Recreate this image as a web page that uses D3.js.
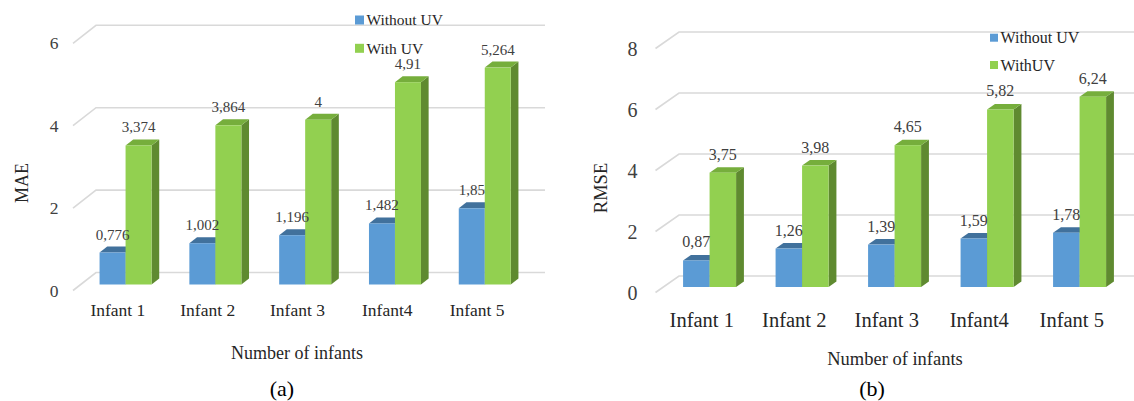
<!DOCTYPE html>
<html>
<head>
<meta charset="utf-8">
<script src="https://cdn.jsdelivr.net/npm/d3@7"></script>
<style>
  html, body { margin: 0; padding: 0; background: #fff; }
  svg text { font-family: "Liberation Serif", "Times New Roman", "DejaVu Serif", serif; }
</style>
</head>
<body>
<svg id="chart" width="1134" height="401"></svg>
<script>
// Categories and series values
const infants = ["Infant 1", "Infant 2", "Infant 3", "Infant4", "Infant 5"];
const maeWithoutUV = [0.776, 1.002, 1.196, 1.482, 1.85];
const maeWithUV = [3.374, 3.864, 4, 4.91, 5.264];
const rmseWithoutUV = [0.87, 1.26, 1.39, 1.59, 1.78];
const rmseWithUV = [3.75, 3.98, 4.65, 5.82, 6.24];
const maeTicks = [0, 2, 4, 6];
const rmseTicks = [0, 2, 4, 6, 8];
const maeLegend = ["Without UV", "With UV"];
const rmseLegend = ["Without UV", "WithUV"];

const FONT = "'Liberation Serif', 'Times New Roman', 'DejaVu Serif', serif";
const svg = d3.select("#chart").attr("font-family", FONT);

const colors = {
  blue:  { front: "#5b9bd5", top: "#41719c", side: "#3f6f9e" },
  green: { front: "#92d050", top: "#76ae3c", side: "#5f8a30" }
};

const fmt = v => String(v).replace(".", ",");

function drawPanel(p) {
  const g = svg.append("g").attr("font-family", FONT);

  // floor-front scales
  const x = d3.scaleBand().domain(infants).range([p.x0, p.x1]).paddingInner(0).paddingOuter(0);
  const y = d3.scaleLinear().domain([0, p.max]).range([p.y0, p.yTop]);

  // gridlines: short diagonal on the side wall, then along the back wall
  const grid = g.append("g").attr("fill", "none").attr("stroke", "#d9d9d9").attr("stroke-width", 1.6);
  p.ticks.forEach(t => {
    const yf = y(t);
    grid.append("path")
      .attr("d", `M${p.x0},${yf} L${p.x0 + p.dx},${yf + p.dy} L${p.x1 + p.dx},${yf + p.dy}`);
  });

  // tick labels
  g.append("g").selectAll("text").data(p.ticks).join("text")
    .attr("x", p.tickX)
    .attr("y", d => y(d))
    .attr("dy", "0.35em")
    .attr("text-anchor", "end")
    .attr("font-size", p.tickSize)
    .attr("fill", "#404040")
    .text(d => d);

  // bars sit in the middle third of the floor depth
  const ox = p.dx / 3, oy = p.dy / 3;
  const yb = v => y(v) + oy;          // bar front plane
  const series = [
    { vals: p.a, c: colors.blue, off: -p.barW },
    { vals: p.b, c: colors.green, off: 0 }
  ];
  const bars = g.append("g");
  infants.forEach((cat, i) => {
    const cx = x(cat) + x.bandwidth() / 2 + ox;
    series.forEach(s => {
      const v = s.vals[i];
      const xl = cx + s.off, xr = xl + p.barW;
      const yt = yb(v), ybase = yb(0);
      // side face
      bars.append("path")
        .attr("d", `M${xr},${yt} L${xr + ox},${yt + oy} L${xr + ox},${ybase + oy} L${xr},${ybase} Z`)
        .attr("fill", s.c.side);
      // top face
      bars.append("path")
        .attr("d", `M${xl},${yt} L${xl + ox},${yt + oy} L${xr + ox},${yt + oy} L${xr},${yt} Z`)
        .attr("fill", s.c.top);
      // front face
      bars.append("rect")
        .attr("x", xl).attr("y", yt)
        .attr("width", p.barW).attr("height", ybase - yt)
        .attr("fill", s.c.front);
    });
  });

  // value labels
  const labels = g.append("g")
    .attr("font-size", p.valSize)
    .attr("fill", "#404040")
    .attr("text-anchor", "middle");
  infants.forEach((cat, i) => {
    const cx = x(cat) + x.bandwidth() / 2 + ox;
    series.forEach(s => {
      const v = s.vals[i];
      labels.append("text")
        .attr("x", cx + s.off + p.barW / 2)
        .attr("y", yb(v) - p.valGap)
        .text(fmt(v));
    });
  });

  // category labels
  g.append("g").selectAll("text").data(infants).join("text")
    .attr("x", d => x(d) + x.bandwidth() / 2)
    .attr("y", p.catY)
    .attr("dy", "0.35em")
    .attr("text-anchor", "middle")
    .attr("font-size", p.catSize)
    .attr("fill", "#262626")
    .text(d => d);

  // axis titles
  g.append("text")
    .attr("x", p.xTitle[0]).attr("y", p.xTitle[1])
    .attr("dy", "0.35em")
    .attr("text-anchor", "middle")
    .attr("font-size", p.titleSize)
    .attr("fill", "#262626")
    .text("Number of infants");

  g.append("text")
    .attr("transform", `translate(${p.yTitle[0]},${p.yTitle[1]}) rotate(-90)`)
    .attr("dy", "0.35em")
    .attr("text-anchor", "middle")
    .attr("font-size", p.titleSize)
    .attr("fill", "#262626")
    .text(p.yName);

  // panel letter
  g.append("text")
    .attr("x", p.panel[0]).attr("y", p.panel[1])
    .attr("dy", "0.35em")
    .attr("text-anchor", "middle")
    .attr("font-size", 22)
    .attr("fill", "#000")
    .text(p.panelName);

  // legend
  const lg = g.append("g").attr("font-size", p.legSize).attr("fill", "#262626");
  [colors.blue.front, colors.green.front].forEach((c, i) => {
    const ly = p.legend[1] + i * p.legStep;
    lg.append("rect")
      .attr("x", p.legend[0]).attr("y", ly - p.legSq / 2)
      .attr("width", p.legSq).attr("height", p.legSq)
      .attr("fill", c);
    lg.append("text")
      .attr("x", p.legend[0] + p.legSq + 2.5).attr("y", ly)
      .attr("dy", "0.35em")
      .text(p.legNames[i]);
  });
}

drawPanel({
  a: maeWithoutUV, b: maeWithUV, max: 6, ticks: maeTicks,
  x0: 73, x1: 522, y0: 290.5, yTop: 43.3, dx: 23, dy: -18,
  barW: 26, tickX: 58.5, tickSize: 17.5,
  valSize: 15, valGap: 13,
  catY: 310, catSize: 17.5,
  xTitle: [297, 353], yTitle: [21.5, 183], titleSize: 18, yName: "MAE",
  panel: [282, 388], panelName: "(a)",
  legend: [355, 20], legStep: 28.3, legSq: 9, legSize: 15.5, legNames: maeLegend
});

drawPanel({
  a: rmseWithoutUV, b: rmseWithUV, max: 8, ticks: rmseTicks,
  x0: 655.5, x1: 1118, y0: 292.5, yTop: 48.5, dx: 23.5, dy: -16.5,
  barW: 26.5, tickX: 637.5, tickSize: 20,
  valSize: 16, valGap: 13,
  catY: 320, catSize: 20.5,
  xTitle: [895, 359], yTitle: [601, 188], titleSize: 18.5, yName: "RMSE",
  panel: [872, 388], panelName: "(b)",
  legend: [990, 37.7], legStep: 27.3, legSq: 8, legSize: 16, legNames: rmseLegend
});
</script>
</body>
</html>
